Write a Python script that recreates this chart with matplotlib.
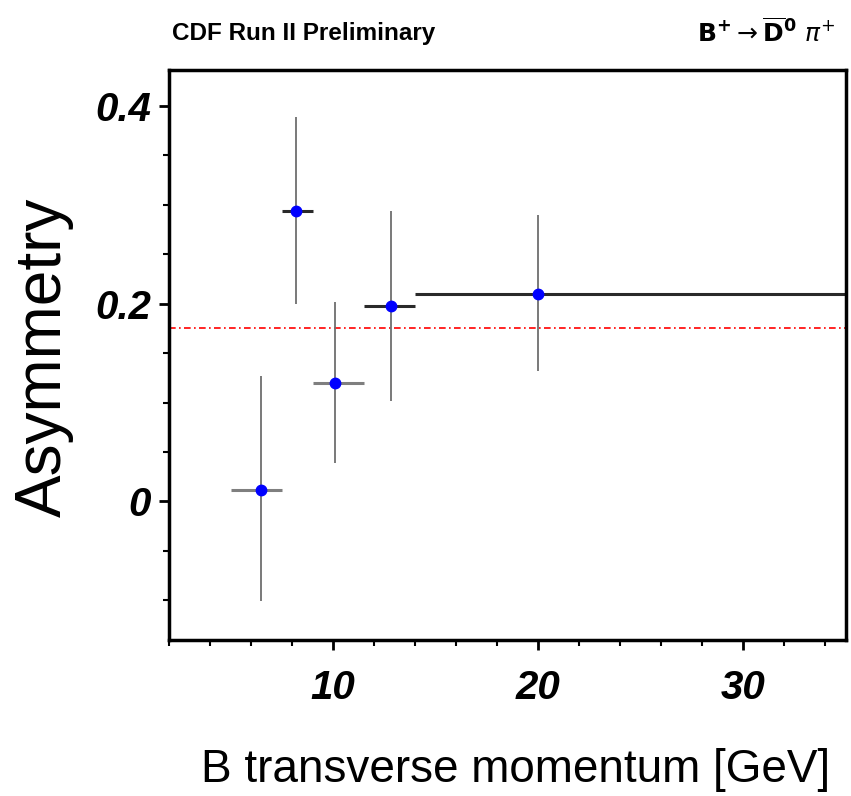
import matplotlib
matplotlib.use("Agg")
import matplotlib.pyplot as plt
from matplotlib.ticker import MultipleLocator, FuncFormatter

# B+ -> D0bar pi+ charge asymmetry vs B pT
pt_center = [6.5, 8.2, 10.1, 12.8, 20.0]
pt_low = [5.0, 7.5, 9.0, 11.5, 14.0]
pt_high = [7.5, 9.0, 11.5, 14.0, 35.0]
asym = [0.012, 0.294, 0.120, 0.198, 0.210]
asym_high = [0.127, 0.389, 0.202, 0.294, 0.289]
asym_low = [-0.101, 0.200, 0.039, 0.102, 0.132]
average = 0.175

hbar_colors = ['#7f7f7f', '#2a2a2a', '#7f7f7f', '#2a2a2a', '#2a2a2a']

fig = plt.figure(figsize=(8.51, 7.96), dpi=100)
ax = fig.add_axes([169 / 851, 1 - 640 / 796, (846 - 169) / 851, (640 - 70) / 796])

ax.axhline(average, color='red', linestyle=(0, (4, 2, 1, 2)), linewidth=1.2, zorder=1)

# vertical error bars
for x, lo, hi in zip(pt_center, asym_low, asym_high):
    ax.vlines(x, lo, hi, color='#6e6e6e', linewidth=1.3, zorder=2)

# horizontal bin widths
for y, x0, x1, c in zip(asym, pt_low, pt_high, hbar_colors):
    ax.hlines(y, x0, x1, color=c, linewidth=2.2, zorder=2)

ax.plot(pt_center, asym, 'o', color='blue', markersize=7.5, zorder=3)

ax.set_xlim(2, 35)
ax.set_ylim(-0.14, 0.436)

ax.xaxis.set_major_locator(MultipleLocator(10))
ax.xaxis.set_minor_locator(MultipleLocator(2))
ax.yaxis.set_major_locator(MultipleLocator(0.2))
ax.yaxis.set_minor_locator(MultipleLocator(0.05))
ax.yaxis.set_major_formatter(FuncFormatter(lambda v, p: f'{v:g}'))

ax.tick_params(which='major', direction='out', length=7, width=2)
ax.tick_params(which='minor', direction='out', length=4, width=1.5)
ax.tick_params(axis='x', which='major', pad=14)
ax.tick_params(axis='y', which='major', pad=6)
for lab in ax.get_xticklabels() + ax.get_yticklabels():
    lab.set_fontfamily('Liberation Sans')
    lab.set_fontweight('bold')
    lab.set_fontstyle('italic')
    lab.set_fontsize(29)

for s in ax.spines.values():
    s.set_linewidth(2.5)

fig.text(44 / 851, 1 - 357 / 796, 'Asymmetry', rotation=90, ha='center', va='center',
         fontsize=46, family='Liberation Sans')
fig.text(830 / 851, 1 - 782 / 796, 'B transverse momentum [GeV]', ha='right', va='baseline',
         fontsize=33, family='Liberation Sans')

fig.text(172 / 851, 1 - 40 / 796, 'CDF Run II Preliminary', ha='left', va='baseline',
         fontsize=17.5, fontweight='bold', family='Liberation Sans')
fig.text(835 / 851, 1 - 42 / 796, r'$\mathbf{B^{+}}\rightarrow\overline{\mathbf{D}}^{\mathbf{0}}\ \pi^{+}$',
         ha='right', va='baseline', fontsize=18)

fig.savefig('out.png', dpi=100)
